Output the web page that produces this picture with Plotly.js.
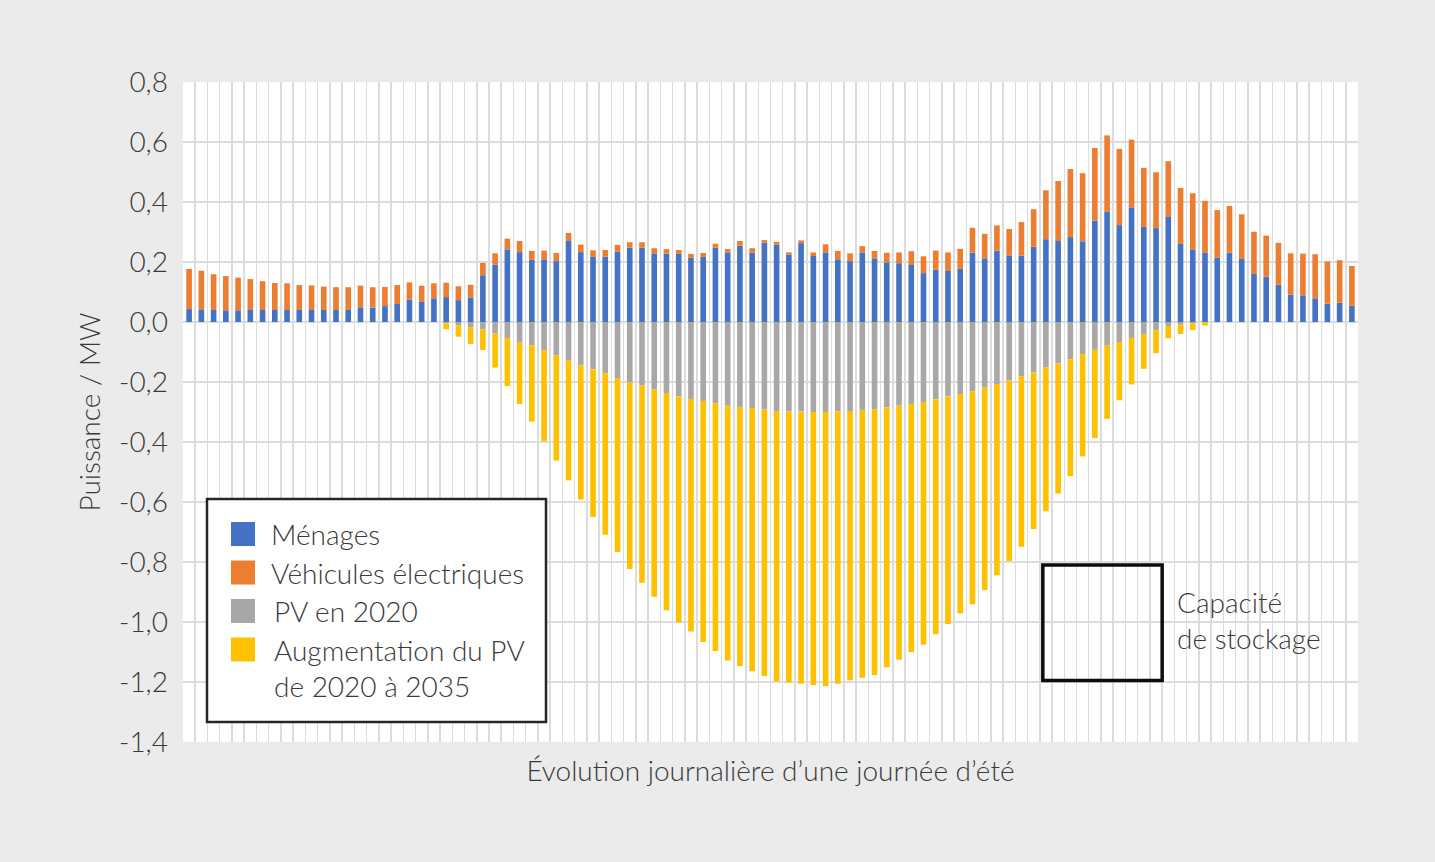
<!DOCTYPE html>
<html>
<head>
<meta charset="utf-8">
<script src="https://cdn.plot.ly/plotly-3.0.1.min.js"></script>
<style>
html,body{margin:0;padding:0;background:#ebebeb;}
#chart{width:1435px;height:862px;}
</style>
</head>
<body>
<div id="chart"></div>
<script>
// Quarter-hour categories of the summer day
const categories = [
"00:00","00:15","00:30","00:45","01:00","01:15","01:30","01:45","02:00","02:15","02:30","02:45",
"03:00","03:15","03:30","03:45","04:00","04:15","04:30","04:45","05:00","05:15","05:30","05:45",
"06:00","06:15","06:30","06:45","07:00","07:15","07:30","07:45","08:00","08:15","08:30","08:45",
"09:00","09:15","09:30","09:45","10:00","10:15","10:30","10:45","11:00","11:15","11:30","11:45",
"12:00","12:15","12:30","12:45","13:00","13:15","13:30","13:45","14:00","14:15","14:30","14:45",
"15:00","15:15","15:30","15:45","16:00","16:15","16:30","16:45","17:00","17:15","17:30","17:45",
"18:00","18:15","18:30","18:45","19:00","19:15","19:30","19:45","20:00","20:15","20:30","20:45",
"21:00","21:15","21:30","21:45","22:00","22:15","22:30","22:45","23:00","23:15","23:30","23:45"];

const menages = [
0.043,0.042,0.040,0.039,0.039,0.040,0.040,0.040,0.040,0.040,0.040,0.040,
0.040,0.040,0.049,0.048,0.053,0.060,0.074,0.067,0.079,0.083,0.073,0.082,
0.156,0.191,0.242,0.233,0.207,0.209,0.203,0.270,0.233,0.217,0.218,0.234,
0.248,0.248,0.229,0.228,0.227,0.214,0.217,0.248,0.232,0.254,0.231,0.264,
0.258,0.224,0.263,0.220,0.232,0.209,0.203,0.232,0.212,0.199,0.196,0.190,
0.163,0.174,0.170,0.177,0.231,0.212,0.238,0.222,0.221,0.251,0.276,0.270,
0.283,0.269,0.338,0.367,0.323,0.382,0.317,0.313,0.350,0.260,0.242,0.232,
0.214,0.231,0.210,0.160,0.151,0.124,0.091,0.089,0.079,0.061,0.064,0.054];

const vehicules = [
0.134,0.129,0.119,0.114,0.109,0.103,0.096,0.090,0.089,0.083,0.082,0.078,
0.076,0.076,0.072,0.068,0.064,0.063,0.058,0.054,0.050,0.048,0.046,0.042,
0.041,0.038,0.036,0.037,0.030,0.029,0.027,0.027,0.025,0.022,0.022,0.023,
0.018,0.018,0.017,0.015,0.013,0.013,0.013,0.013,0.011,0.016,0.015,0.009,
0.009,0.008,0.009,0.012,0.027,0.028,0.026,0.021,0.025,0.032,0.036,0.046,
0.056,0.064,0.062,0.067,0.083,0.082,0.084,0.088,0.112,0.125,0.163,0.200,
0.227,0.227,0.242,0.255,0.254,0.226,0.197,0.186,0.186,0.187,0.187,0.172,
0.159,0.156,0.149,0.141,0.137,0.140,0.138,0.139,0.147,0.141,0.142,0.133];

const pv2020 = [
0,0,0,0,0,0,0,0,0,0,0,0,
0,0,0,0,0,0,0,0,0,-0.004,-0.011,-0.017,
-0.024,-0.038,-0.053,-0.069,-0.078,-0.094,-0.111,-0.127,-0.144,-0.158,-0.171,-0.187,
-0.202,-0.212,-0.225,-0.237,-0.248,-0.257,-0.263,-0.271,-0.279,-0.283,-0.287,-0.292,
-0.297,-0.298,-0.298,-0.300,-0.300,-0.298,-0.297,-0.293,-0.292,-0.284,-0.279,-0.273,
-0.267,-0.258,-0.248,-0.240,-0.231,-0.219,-0.207,-0.195,-0.182,-0.168,-0.152,-0.138,
-0.124,-0.107,-0.093,-0.077,-0.067,-0.053,-0.040,-0.027,-0.013,-0.009,-0.003,-0.001,
0,0,0,0,0,0,0,0,0,0,0,0];

const pvAugmentation = [
0,0,0,0,0,0,0,0,0,0,0,0,
0,0,0,0,0,0,0,0,0,-0.020,-0.038,-0.056,
-0.069,-0.114,-0.161,-0.204,-0.254,-0.303,-0.351,-0.401,-0.448,-0.492,-0.538,-0.580,
-0.621,-0.657,-0.691,-0.724,-0.754,-0.775,-0.804,-0.826,-0.849,-0.864,-0.877,-0.888,
-0.901,-0.904,-0.908,-0.910,-0.913,-0.908,-0.897,-0.893,-0.885,-0.867,-0.847,-0.828,
-0.809,-0.783,-0.759,-0.732,-0.710,-0.674,-0.637,-0.602,-0.567,-0.522,-0.479,-0.434,
-0.390,-0.341,-0.294,-0.246,-0.194,-0.155,-0.116,-0.077,-0.041,-0.031,-0.024,-0.011,
0,0,0,0,0,0,0,0,0,0,0,0];

const seriesNames = ["Ménages","Véhicules électriques","PV en 2020","Augmentation du PV<br>de 2020 à 2035"];
const seriesColors = ["#4472C4","#ED7D31","#A9A8A7","#FFC000"];

const yTickVals = [-1.4,-1.2,-1.0,-0.8,-0.6,-0.4,-0.2,0,0.2,0.4,0.6,0.8];
const yTickText = ["-1,4","-1,2","-1,0","-0,8","-0,6","-0,4","-0,2","0,0","0,2","0,4","0,6","0,8"];

const FONT = "Lato, 'Open Sans', sans-serif";
const TXT = "#3a3a3a";
const FS = 28;

const values = [menages, vehicules, pv2020, pvAugmentation];
const traces = values.map((v, i) => ({
  type: "bar",
  x: categories,
  y: v,
  name: seriesNames[i],
  marker: {color: seriesColors[i], line: {width: 0}},
  showlegend: false,
  hoverinfo: "x+y+name"
}));

// plot area in pixels: left 183, right 1358, top 82, bottom 742
const L = 183, R = 1358, T = 82, B = 742;
const px = p => (p - L) / (R - L);
const py = p => (B - p) / (B - T);

const shapes = [];
const annotations = [];

// custom legend box
shapes.push({type:"rect", xref:"paper", yref:"paper", layer:"above",
  x0:px(207), x1:px(546), y0:py(499), y1:py(722),
  fillcolor:"#ffffff", line:{color:"#262626", width:2.5}});
const rowY = [534, 572.5, 611, 649.5];
const textX = [269, 269, 272, 272];
rowY.forEach((yy, i) => {
  shapes.push({type:"rect", xref:"paper", yref:"paper", layer:"above",
    x0:px(231), x1:px(255), y0:py(yy-12), y1:py(yy+12),
    fillcolor:seriesColors[i], line:{width:0}});
});
const legendLines = [["Ménages"],["Véhicules électriques"],["PV en 2020"],["Augmentation du PV","de 2020 à 2035"]];
legendLines.forEach((lines, i) => {
  lines.forEach((t, j) => {
    annotations.push({xref:"paper", yref:"paper", x:px(textX[i]), y:py(rowY[i] + j*36.5),
      xanchor:"left", yanchor:"middle", showarrow:false, text:t,
      font:{family:FONT, size:FS, color:TXT, weight:300}});
  });
});

// storage capacity box
shapes.push({type:"rect", xref:"x", yref:"y", layer:"above",
  x0:69.75, x1:79.5, y0:-0.81, y1:-1.195,
  fillcolor:"rgba(0,0,0,0)", line:{color:"#0d0d0d", width:3.5}});
annotations.push({xref:"paper", yref:"paper", x:px(1175), y:py(602), xanchor:"left", yanchor:"middle",
  showarrow:false, text:"Capacité", font:{family:FONT, size:FS, color:TXT, weight:300}});
annotations.push({xref:"paper", yref:"paper", x:px(1175), y:py(638), xanchor:"left", yanchor:"middle",
  showarrow:false, text:"de stockage", font:{family:FONT, size:FS, color:TXT, weight:300}});

const layout = {
  width: 1435, height: 862,
  paper_bgcolor: "#ebebeb",
  plot_bgcolor: "#ffffff",
  margin: {l: L, r: 1435 - R, t: T, b: 862 - B, pad: 0},
  barmode: "relative",
  bargap: 0.54,
  showlegend: false,
  separators: ", ",
  font: {family: FONT, color: TXT, weight: 300},
  xaxis: {
    type: "category",
    categoryorder: "array",
    categoryarray: categories,
    tickmode: "linear",
    tick0: 0,
    dtick: 1,
    tickson: "boundaries",
    showgrid: true,
    gridcolor: "#dcdcdc",
    gridwidth: 1.5,
    showticklabels: false,
    ticks: "",
    showline: false,
    zeroline: false,
    title: {text: "Évolution journalière d’une journée d’été", standoff: 19,
      font: {family: FONT, size: FS, color: TXT, weight: 300}},
    fixedrange: true
  },
  yaxis: {
    range: [-1.4, 0.8],
    tickvals: yTickVals,
    ticktext: yTickText,
    showgrid: true,
    gridcolor: "#dcdcdc",
    gridwidth: 1.5,
    zeroline: false,
    showline: false,
    ticks: "",
    ticklabelstandoff: 14,
    tickfont: {family: FONT, size: FS, color: TXT, weight: 300},
    title: {text: "Puissance / MW", standoff: 10,
      font: {family: FONT, size: FS, color: TXT, weight: 300}},
    fixedrange: true
  },
  shapes: shapes,
  annotations: annotations
};

Plotly.newPlot("chart", traces, layout, {displayModeBar: false, staticPlot: true});
</script>
</body>
</html>
